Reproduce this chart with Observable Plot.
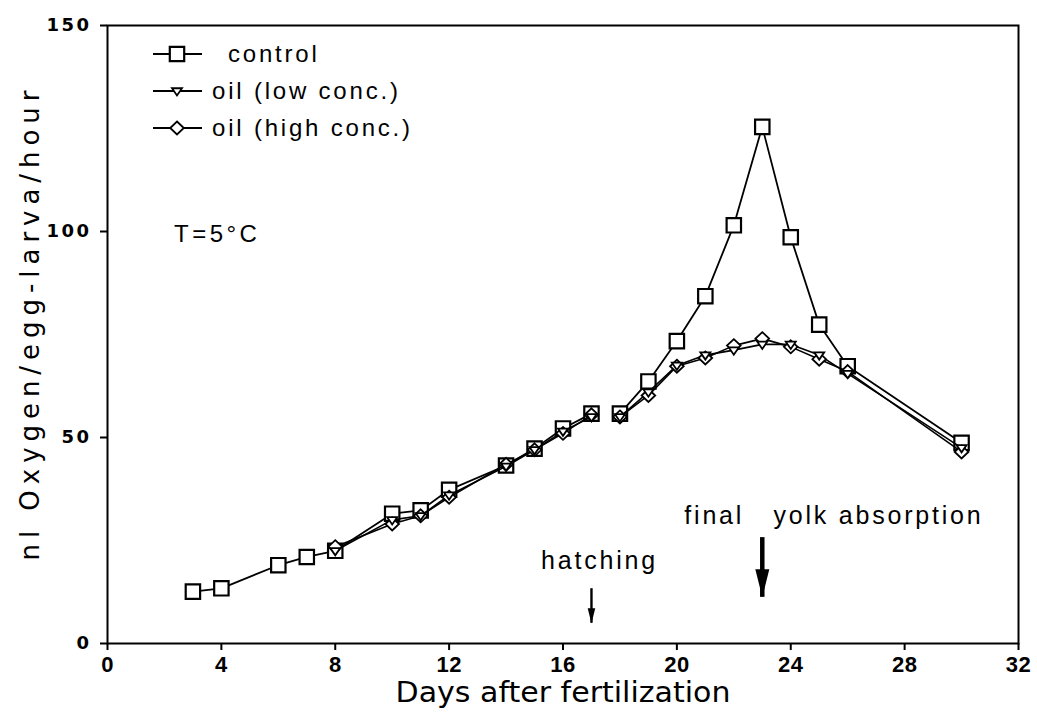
<!DOCTYPE html>
<html><head><meta charset="utf-8">
<script src="https://cdn.jsdelivr.net/npm/d3@7"></script>
<script src="https://cdn.jsdelivr.net/npm/@observablehq/plot@0.6"></script>
<style>
body{margin:0;background:#fff;}
#wrap{position:relative;width:1037px;height:722px;background:#fff;}
#wrap > svg{position:absolute;left:0;top:0;}
</style></head><body><div id="wrap"></div>
<script>
// ---- data ----
const days = [3,4,6,7,8,10,11,12,14,15,16,17,18,19,20,21,22,23,24,25,26,30];
const control = [12.6,13.4,19,21,22.5,31.5,32.3,37.3,43.2,47.3,52.2,55.8,55.8,63.6,73.4,84.3,101.5,125.4,98.6,77.4,67.3,48.7];
const oilDays = [8,10,11,12,14,15,16,17,18,19,20,21,22,23,24,25,26,30];
const oilLow = [22.5,30,31,36,43,47,51.5,55,55,61,67.5,70,71.2,72.6,72.6,70,65.5,47.5];
const oilHigh = [23.5,29,31,35.5,43.5,47,51,55.5,55,60.2,67.3,69.3,72.3,74,72,69,66,46.5];
const seriesNames = ["control", "oil (low conc.)", "oil (high conc.)"];
const hatchingDay = 17;          // egg stage ends; lines are broken after this day
const xTicks = [0,4,8,12,16,20,24,28,32];
const yTicks = [0,50,100,150];
const xLabel = "Days after fertilization";
const yLabel = "nl Oxygen/egg-larva/hour";
const tempNote = "T=5\u00B0C";
const eventLabels = ["hatching", "final   yolk absorption"];
const eventDays = [17, 23];
const eventTextY = [20, 31];
const eventArrowFrom = [13.3, 25.7];
const eventArrowTo = [4.9, 11.2];

// ---- symbols ----
const symSquare = {draw(c, size){const r=Math.sqrt(size/Math.PI); c.moveTo(-r,-r); c.lineTo(r,-r); c.lineTo(r,r); c.lineTo(-r,r); c.closePath();}};
const symDiamond = {draw(c, size){const r=Math.sqrt(size/Math.PI); c.moveTo(0,-r); c.lineTo(r*1.05,0); c.lineTo(0,r); c.lineTo(-r*1.05,0); c.closePath();}};
const symTriDown = {draw(c, size){const r=Math.sqrt(size/Math.PI); c.moveTo(-r,-r*0.55); c.lineTo(r,-r*0.55); c.lineTo(0,r*0.9); c.closePath();}};
// arrow head: tip at the anchor point, pointing down
const symHead = {draw(c, size){const r=Math.sqrt(size/Math.PI); c.moveTo(-r*0.5,-r*2); c.lineTo(r*0.5,-r*2); c.lineTo(0,0); c.closePath();}};

function rows(xs, ys, name){
  return xs.map((d,i)=>({day:d, value:ys[i], series:name, seg: name + (d<=hatchingDay ? "-egg" : "-larva")}));
}
const ctrlRows = rows(days, control, seriesNames[0]);
const lowRows = rows(oilDays, oilLow, seriesNames[1]);
const highRows = rows(oilDays, oilHigh, seriesNames[2]);
const events = eventLabels.map((t,i)=>({label:t, day:eventDays[i], ty:eventTextY[i], from:eventArrowFrom[i], to:eventArrowTo[i]}));

const plot = Plot.plot({
  width: 1037, height: 722,
  marginTop: 25, marginRight: 19, marginBottom: 79, marginLeft: 107,
  x: {domain: [0,32]},
  y: {domain: [0,150]},
  style: {background: "white", color: "black"},
  marks: [
    Plot.frame({stroke: "black", strokeWidth: 2}),
    Plot.axisX({ticks: xTicks, tickSize: 7, tickPadding: 6, strokeWidth: 2, fontSize: 22, fontWeight: "bold", fontFamily: "'Liberation Sans',Arial,sans-serif", label: null}),
    Plot.axisY({ticks: yTicks, tickSize: 7, tickPadding: 9, strokeWidth: 2, fontSize: 18, fontWeight: "bold", fontFamily: "'DejaVu Sans',sans-serif", label: null}),
    Plot.text([xLabel], {frameAnchor: "bottom", dy: 58, fontSize: 28, fontFamily: "'DejaVu Sans',sans-serif"}),
    Plot.text([yLabel], {frameAnchor: "left", dx: -77, rotate: -90, textAnchor: "middle", dy: -9, fontSize: 26, fontFamily: "'DejaVu Sans',sans-serif"}),
    // control series
    Plot.line(ctrlRows, {x: "day", y: "value", z: "seg", stroke: "black", strokeWidth: 1.8}),
    Plot.dot(ctrlRows, {x: "day", y: "value", symbol: symSquare, r: 7.2, fill: "white", stroke: "black", strokeWidth: 2.2}),
    // oil series
    Plot.line(lowRows, {x: "day", y: "value", z: "seg", stroke: "black", strokeWidth: 1.6}),
    Plot.line(highRows, {x: "day", y: "value", z: "seg", stroke: "black", strokeWidth: 1.6}),
    Plot.dot(highRows, {x: "day", y: "value", symbol: symDiamond, r: 6.5, fill: "white", stroke: "black", strokeWidth: 1.8}),
    Plot.dot(lowRows, {x: "day", y: "value", symbol: symTriDown, r: 5, fill: "white", stroke: "black", strokeWidth: 1.8}),
    // annotations
    Plot.text(events.slice(0,1), {x: "day", y: "ty", text: "label", dx: 8, fontSize: 25, fontFamily: "'Liberation Sans',Arial,sans-serif"}),
    Plot.text(events.slice(1), {x: "day", y: "ty", text: "label", textAnchor: "start", dx: -78, fontSize: 25, fontFamily: "'Liberation Sans',Arial,sans-serif"}),
    Plot.ruleX(events.slice(0,1), {x: "day", y1: "from", y2: "to", stroke: "black", strokeWidth: 2.4}),
    Plot.ruleX(events.slice(1), {x: "day", y1: "from", y2: "to", stroke: "black", strokeWidth: 4.5}),
    Plot.dot(events.slice(0,1), {x: "day", y: "to", symbol: symHead, r: 7.5, fill: "black", stroke: "none"}),
    Plot.dot(events.slice(1), {x: "day", y: "to", symbol: symHead, r: 14, fill: "black", stroke: "none"})
  ]
});
document.getElementById("wrap").appendChild(plot);

// typographic adjustments (wide letter spacing of the original lettering)
const allText = d3.select(plot).selectAll("text");
allText.filter(function(){ return this.textContent === xLabel; })
  .attr("textLength", 335).attr("lengthAdjust", "spacingAndGlyphs");
allText.filter(function(){ return this.textContent === yLabel; })
  .attr("textLength", 470).attr("lengthAdjust", "spacing");
allText.filter(function(){ return eventLabels.includes(this.textContent); })
  .style("white-space", "pre").attr("letter-spacing", 2.8);
d3.select(plot).selectAll('g[aria-label="y-axis tick label"] text').attr("letter-spacing", 2.5);
d3.select(plot).selectAll('g[aria-label="x-axis tick label"] text').attr("letter-spacing", 0.5);
</script>
<script>
// legend and temperature note, drawn inside the plot frame
(function(){
  const wrap = document.getElementById("wrap");
  const svg = d3.select(wrap).append("svg").attr("width", 1037).attr("height", 722).style("pointer-events","none");
  const items = [
    {name: seriesNames[0], sym: symSquare, r: 7.2, sw: 2.2, tx: 228},
    {name: seriesNames[1], sym: symTriDown, r: 5, sw: 1.8, tx: 212},
    {name: seriesNames[2], sym: symDiamond, r: 6.5, sw: 1.8, tx: 212}
  ];
  const y0 = 54, dy = 37;
  items.forEach((it, i) => {
    const y = y0 + i*dy;
    const g = svg.append("g");
    g.append("line").attr("x1", 153).attr("x2", 202).attr("y1", y).attr("y2", y).attr("stroke","black").attr("stroke-width",1.8);
    g.append("path").attr("d", d3.symbol(it.sym, Math.PI*it.r*it.r)()).attr("transform", `translate(177,${y})`)
      .attr("fill","white").attr("stroke","black").attr("stroke-width", it.sw);
    g.append("text").attr("x", it.tx).attr("y", y).attr("dy","0.35em").attr("font-size", 24)
      .attr("font-family","'Liberation Sans',Arial,sans-serif").attr("letter-spacing", 2.8).text(it.name);
  });
  svg.append("text").attr("x", 174).attr("y", 234).attr("dy","0.35em").attr("font-size", 24)
    .attr("font-family","'Liberation Sans',Arial,sans-serif").attr("letter-spacing", 3.5).text(tempNote);
})();
</script>
</body></html>
